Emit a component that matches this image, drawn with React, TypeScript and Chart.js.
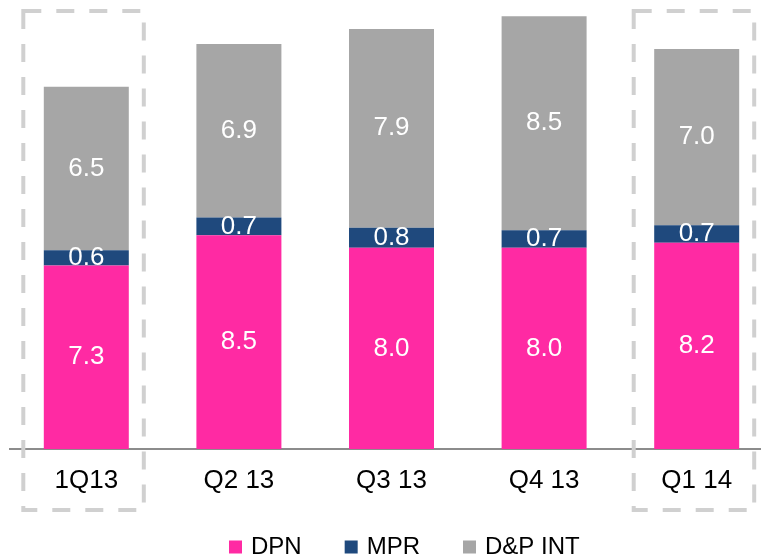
import React, { useEffect, useRef } from "react";
import { Chart, registerables } from "chart.js";

Chart.register(...registerables);

const categories = ["1Q13", "Q2 13", "Q3 13", "Q4 13", "Q1 14"];
const dpnValues = [7.3, 8.5, 8.0, 8.0, 8.2];
const mprValues = [0.6, 0.7, 0.8, 0.7, 0.7];
const dpIntValues = [6.5, 6.9, 7.9, 8.5, 7.0];
const seriesNames = ["DPN", "MPR", "D&P INT"];
const seriesColors = ["#FF2AA3", "#1F497D", "#A6A6A6"];
const highlightedCategories = [0, 4];

const FONT = "'Liberation Sans', Arial, sans-serif";

const labelsPlugin = {
  id: "segmentLabels",
  afterDatasetsDraw(chart: any) {
    const ctx = chart.ctx;
    ctx.save();
    ctx.font = `26px ${FONT}`;
    ctx.fillStyle = "#FFFFFF";
    ctx.textAlign = "center";
    ctx.textBaseline = "middle";
    chart.data.datasets.forEach((ds: any, di: number) => {
      const meta = chart.getDatasetMeta(di);
      meta.data.forEach((el: any, i: number) => {
        const v = ds.data[i];
        const y = (el.y + el.base) / 2;
        ctx.fillText(v.toFixed(1), el.x, y);
      });
    });
    ctx.restore();
  },
};

const boxesPlugin = {
  id: "dashedBoxes",
  afterDraw(chart: any) {
    const ctx = chart.ctx;
    const xs = chart.scales.x;
    const top = chart.chartArea.top + 11;
    const bottom = 510;
    ctx.save();
    ctx.strokeStyle = "#D0D0D0";
    ctx.lineWidth = 4;
    ctx.setLineDash([18, 15]);
    highlightedCategories.forEach((idx) => {
      const cx = xs.getPixelForValue(idx);
      const left = cx - 63;
      const right = cx + 57.5;
      ctx.strokeRect(left, top, right - left, bottom - top);
    });
    ctx.restore();
  },
};

const legendPlugin = {
  id: "customLegend",
  afterDraw(chart: any) {
    const ctx = chart.ctx;
    ctx.save();
    ctx.font = `24px ${FONT}`;
    ctx.textBaseline = "middle";
    ctx.textAlign = "left";
    let x = 229;
    const cy = 547;
    const box = 13;
    seriesNames.forEach((name, i) => {
      ctx.fillStyle = seriesColors[i];
      ctx.fillRect(x, cy - box / 2, box, box);
      ctx.fillStyle = "#000000";
      const tx = x + box + 9;
      ctx.fillText(name, tx, cy);
      x = tx + ctx.measureText(name).width + 43;
    });
    ctx.restore();
  },
};

export default function App() {
  const canvasRef = useRef<HTMLCanvasElement | null>(null);

  useEffect(() => {
    const canvas = canvasRef.current;
    if (!canvas) return;
    const chart = new Chart(canvas, {
      type: "bar",
      data: {
        labels: categories,
        datasets: [
          { label: seriesNames[0], data: dpnValues, backgroundColor: seriesColors[0] },
          { label: seriesNames[1], data: mprValues, backgroundColor: seriesColors[1] },
          { label: seriesNames[2], data: dpIntValues, backgroundColor: seriesColors[2] },
        ],
      },
      options: {
        responsive: false,
        animation: false,
        devicePixelRatio: 1,
        layout: { padding: { left: 10, right: 2, top: 0, bottom: 0 } },
        datasets: {
          bar: { barPercentage: 0.557, categoryPercentage: 1.0, borderWidth: 0 },
        },
        plugins: {
          legend: { display: false },
          tooltip: { enabled: false },
        },
        scales: {
          x: {
            stacked: true,
            grid: { display: false, drawTicks: false },
            border: { display: true, color: "#8C8C8C", width: 2 },
            ticks: {
              color: "#000000",
              font: { family: FONT, size: 26 },
              padding: 16,
              maxRotation: 0,
              autoSkip: false,
            },
            afterFit: (scale: any) => {
              scale.height = 110;
            },
          },
          y: {
            stacked: true,
            display: false,
            min: 0,
            max: 17.85,
          },
        },
      },
      plugins: [labelsPlugin, boxesPlugin, legendPlugin],
    });
    return () => chart.destroy();
  }, []);

  return (
    <div
      style={{
        position: "absolute",
        left: 0,
        top: 0,
        width: 761,
        height: 559,
        overflow: "hidden",
        background: "#FFFFFF",
      }}
    >
      <canvas ref={canvasRef} width={775} height={559} style={{ width: 775, height: 559, display: "block" }} />
    </div>
  );
}
